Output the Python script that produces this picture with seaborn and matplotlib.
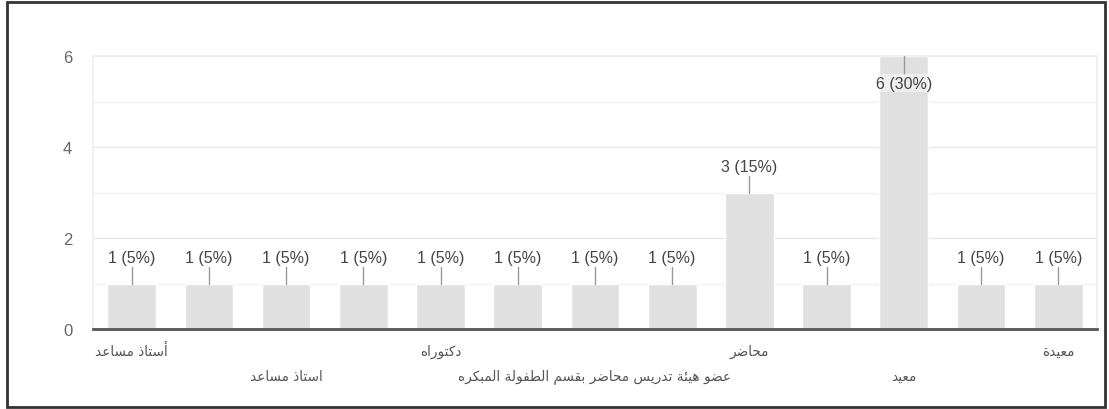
import numpy as np
import pandas as pd
import matplotlib
matplotlib.use("Agg")
import matplotlib.pyplot as plt
from matplotlib.patches import Rectangle
import seaborn as sns

# data (only every other category label is printed)
labels = ["أستاذ مساعد", "", "استاذ مساعد", "", "دكتوراه", "",
          "عضو هيئة تدريس محاضر بقسم الطفولة المبكره", "", "محاضر", "",
          "معيد", "", "معيدة"]
counts = [1, 1, 1, 1, 1, 1, 1, 1, 3, 1, 6, 1, 1]
yticks = [0, 2, 4, 6]

# matplotlib has no arabic shaping, so pick presentation forms by hand
# (isolated, final, initial, medial); right-joining letters have two forms
FORMS = {
    "ا": "\ufe8d\ufe8e", "أ": "\ufe83\ufe84", "إ": "\ufe87\ufe88", "آ": "\ufe81\ufe82",
    "د": "\ufea9\ufeaa", "ذ": "\ufeab\ufeac", "ر": "\ufead\ufeae", "ز": "\ufeaf\ufeb0",
    "و": "\ufeed\ufeee", "ة": "\ufe93\ufe94", "ى": "\ufeef\ufef0",
    "ب": "\ufe8f\ufe90\ufe91\ufe92", "ت": "\ufe95\ufe96\ufe97\ufe98",
    "ئ": "\ufe89\ufe8a\ufe8b\ufe8c", "ح": "\ufea1\ufea2\ufea3\ufea4",
    "س": "\ufeb1\ufeb2\ufeb3\ufeb4", "ض": "\ufebd\ufebe\ufebf\ufec0",
    "ط": "\ufec1\ufec2\ufec3\ufec4", "ع": "\ufec9\ufeca\ufecb\ufecc",
    "ف": "\ufed1\ufed2\ufed3\ufed4", "ق": "\ufed5\ufed6\ufed7\ufed8",
    "ك": "\ufed9\ufeda\ufedb\ufedc", "ل": "\ufedd\ufede\ufedf\ufee0",
    "م": "\ufee1\ufee2\ufee3\ufee4", "ه": "\ufee9\ufeea\ufeeb\ufeec",
    "ي": "\ufef1\ufef2\ufef3\ufef4", "ن": "\ufee5\ufee6\ufee7\ufee8",
}


def shape(s):
    out = []
    for i, ch in enumerate(s):
        f = FORMS.get(ch)
        if f is None:
            out.append(ch)
            continue
        prev = s[i - 1] if i > 0 else ""
        nxt = s[i + 1] if i + 1 < len(s) else ""
        join_prev = len(FORMS.get(prev, "")) == 4
        join_next = len(f) == 4 and nxt in FORMS
        if join_prev and join_next:
            out.append(f[3])
        elif join_prev:
            out.append(f[1])
        elif join_next:
            out.append(f[2])
        else:
            out.append(f[0])
    return "".join(out)[::-1]


sns.set_theme(style="white")
plt.rcParams["font.family"] = ["Liberation Sans", "DejaVu Sans"]

df = pd.DataFrame({"pos": np.arange(len(counts)), "count": counts})
total = sum(counts)

fig = plt.figure(figsize=(11.09, 4.10), dpi=100)
ax = fig.add_axes([0.084, 0.195, 0.905, 0.666])

sns.barplot(data=df, x="pos", y="count", color="#e0e0e0", saturation=1,
            width=0.63, ax=ax, zorder=2)

ax.set_ylim(0, 6)
ax.set_xlim(-0.5, len(counts) - 0.5)
ax.set_yticks(yticks)
ax.set_yticks([1, 3, 5], minor=True)
ax.grid(axis="y", which="major", color="#e6e6e6", lw=1, zorder=0)
ax.grid(axis="y", which="minor", color="#f2f2f2", lw=1, zorder=0)
ax.tick_params(axis="y", which="both", length=0, pad=15, labelsize=12,
               labelcolor="#666666")
ax.set_xticks([])
ax.set_xlabel("")
ax.set_ylabel("")
for side in ["left", "right", "top"]:
    ax.spines[side].set_color("#f0f0f0")
ax.spines["bottom"].set_color("#555555")
ax.spines["bottom"].set_linewidth(2)
ax.spines["bottom"].set_zorder(3)

# value labels with a short leader line
for i, v in enumerate(counts):
    txt = f"{v} ({v / total * 100:.0f}%)"
    if v + 0.8 < ax.get_ylim()[1]:
        ax.plot([i, i], [v, v + 0.37], color="#999999", lw=1, zorder=3)
        ax.text(i, v + 0.58, txt, ha="center", va="center", fontsize=11.5,
                color="#444444", zorder=4)
    else:
        ax.plot([i, i], [v, v - 0.4], color="#999999", lw=1, zorder=3)
        ax.text(i, v - 0.6, txt, ha="center", va="center", fontsize=11.5,
                color="#444444", zorder=4,
                bbox=dict(boxstyle="square,pad=0.1", fc="white", ec="none", alpha=0.5))

# category labels, staggered in two rows
row = 0
for i, lab in enumerate(labels):
    if not lab:
        continue
    y = -0.08 if row % 2 == 0 else -0.172
    ax.text(i, y, shape(lab), transform=ax.get_xaxis_transform(), ha="center",
            va="center", fontsize=9.8, color="#555555", family="DejaVu Sans")
    row += 1

fig.patches.append(Rectangle((0.006, 0.006), 0.99, 0.987, transform=fig.transFigure,
                             fill=False, ec="#333333", lw=2))

fig.savefig("out.png", dpi=100)
